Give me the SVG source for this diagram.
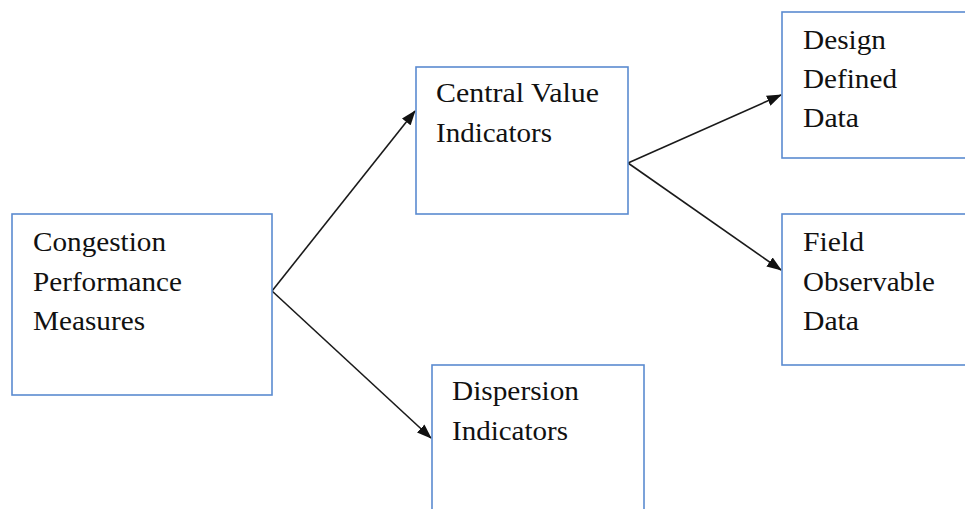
<svg xmlns="http://www.w3.org/2000/svg" width="965" height="509" viewBox="0 0 965 509">
<style>
.box{fill:#fff;stroke:#5b8bd0;stroke-width:1.6}
.t{font-family:'Liberation Serif','Times New Roman',serif;font-size:28px;fill:#111}
.c{stroke:#1a1a1a;stroke-width:1.6;fill:none}
</style>
<defs>
<marker id="ah" markerWidth="15" markerHeight="11" refX="14" refY="5.5" orient="auto" markerUnits="userSpaceOnUse">
<path d="M0,0 L15,5.5 L0,11 Z" fill="#111"/>
</marker>
</defs>
<rect width="965" height="509" fill="#fff"/>
<g id="connectors">
<line class="c" x1="272" y1="291" x2="415" y2="111" marker-end="url(#ah)"/>
<line class="c" x1="272" y1="291" x2="431" y2="438" marker-end="url(#ah)"/>
<line class="c" x1="628" y1="163" x2="781" y2="95" marker-end="url(#ah)"/>
<line class="c" x1="628" y1="163" x2="781" y2="270" marker-end="url(#ah)"/>
</g>
<g id="congestion">
<rect class="box" x="12" y="214" width="260" height="181"/>
<text class="t" x="33" y="251" textLength="133" lengthAdjust="spacingAndGlyphs">Congestion</text>
<text class="t" x="33" y="291" textLength="149" lengthAdjust="spacingAndGlyphs">Performance</text>
<text class="t" x="33" y="330" textLength="112" lengthAdjust="spacingAndGlyphs">Measures</text>
</g>
<g id="central">
<rect class="box" x="416" y="67" width="212" height="147"/>
<text class="t" x="436" y="102" textLength="163" lengthAdjust="spacingAndGlyphs">Central Value</text>
<text class="t" x="436" y="142" textLength="116" lengthAdjust="spacingAndGlyphs">Indicators</text>
</g>
<g id="design">
<rect class="box" x="782" y="12" width="200" height="146"/>
<text class="t" x="803" y="49" textLength="83" lengthAdjust="spacingAndGlyphs">Design</text>
<text class="t" x="803" y="88" textLength="94" lengthAdjust="spacingAndGlyphs">Defined</text>
<text class="t" x="803" y="127" textLength="56" lengthAdjust="spacingAndGlyphs">Data</text>
</g>
<g id="field">
<rect class="box" x="782" y="214" width="200" height="151"/>
<text class="t" x="803" y="251" textLength="61" lengthAdjust="spacingAndGlyphs">Field</text>
<text class="t" x="803" y="291" textLength="132" lengthAdjust="spacingAndGlyphs">Observable</text>
<text class="t" x="803" y="330" textLength="56" lengthAdjust="spacingAndGlyphs">Data</text>
</g>
<g id="dispersion">
<rect class="box" x="432" y="365" width="212" height="160"/>
<text class="t" x="452" y="400" textLength="127" lengthAdjust="spacingAndGlyphs">Dispersion</text>
<text class="t" x="452" y="440" textLength="116" lengthAdjust="spacingAndGlyphs">Indicators</text>
</g>
</svg>
